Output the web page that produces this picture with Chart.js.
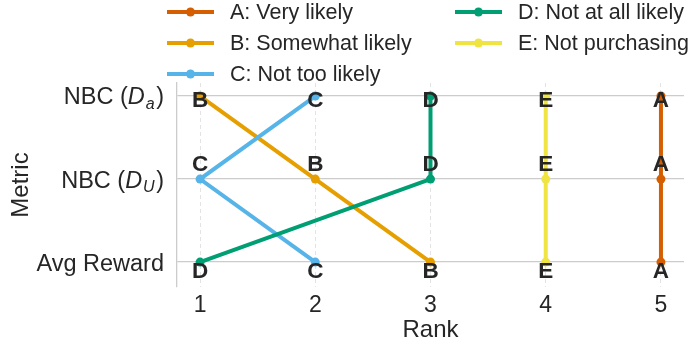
<!DOCTYPE html>
<html>
<head>
<meta charset="utf-8">
<script src="https://cdn.jsdelivr.net/npm/chart.js@4"></script>
<style>
  html, body { margin: 0; padding: 0; background: #ffffff; }
  canvas { display: block; }
</style>
</head>
<body>
<canvas id="c" width="693" height="350"></canvas>
<script>
// Metrics, top row first; "X_y" means X with subscript y
const metrics = ['NBC (D_a)', 'NBC (D_U)', 'Avg Reward'];
const rankTicks = [1, 2, 3, 4, 5];

const seriesNames = ['A: Very likely', 'B: Somewhat likely', 'C: Not too likely', 'D: Not at all likely', 'E: Not purchasing'];
const seriesLetters = ['A', 'B', 'C', 'D', 'E'];

// Rank of each group under each metric (same order as metrics)
const ranksA = [5, 5, 5];
const ranksB = [1, 2, 3];
const ranksC = [2, 1, 2];
const ranksD = [3, 3, 1];
const ranksE = [4, 4, 4];
const seriesRanks = [ranksA, ranksB, ranksC, ranksD, ranksE];

const colors = ['#D55E00', '#E69F00', '#56B4E9', '#009E73', '#F0E442'];

const FONT = "'Liberation Sans', Arial, Helvetica, sans-serif";
const INK = '#262626';
const rowOf = i => metrics.length - 1 - i;

const datasets = seriesNames.map((name, s) => ({
  label: name,
  letter: seriesLetters[s],
  data: seriesRanks[s].map((r, i) => ({ x: r, y: rowOf(i) })),
  borderColor: colors[s],
  backgroundColor: colors[s],
  pointBackgroundColor: colors[s],
  pointBorderWidth: 0,
  pointRadius: 4.5,
  pointHoverRadius: 4.5,
  borderWidth: 4,
  tension: 0,
  fill: false,
  order: seriesNames.length - s
}));

// Vertical offset of the letter tags relative to their point, per row
const letterOffset = { 2: 5, 1: -14, 0: 10 };

const letterTags = {
  id: 'letterTags',
  afterDatasetsDraw(chart) {
    const ctx = chart.ctx;
    ctx.save();
    ctx.font = "bold 22.5px " + FONT;
    ctx.fillStyle = INK;
    ctx.textAlign = 'center';
    ctx.textBaseline = 'middle';
    chart.data.datasets.forEach((ds, s) => {
      const meta = chart.getDatasetMeta(s);
      meta.data.forEach((pt, i) => {
        const row = ds.data[i].y;
        ctx.fillText(ds.letter, pt.x, pt.y + letterOffset[row]);
      });
    });
    ctx.restore();
  }
};

// Draws a metric name, rendering "X_y" as italic X with a subscript y
function drawMetricLabel(ctx, text, xRight, yMid, size) {
  const m = text.match(/^(.*\()(\w)_(\w)(\))$/);
  const base = y => y + size * 0.36;
  const normal = size + "px " + FONT;
  if (!m) {
    ctx.font = normal;
    ctx.textAlign = 'right';
    ctx.fillText(text, xRight, base(yMid));
    return;
  }
  const subSize = Math.round(size * 0.7);
  const parts = [
    { t: m[1], f: normal, dy: 0, pad: 0 },
    { t: m[2], f: "italic " + size + "px " + FONT, dy: 0, pad: 1 },
    { t: m[3], f: "italic " + subSize + "px " + FONT, dy: size * 0.2, pad: 1.5 },
    { t: m[4], f: normal, dy: 0, pad: 0 }
  ];
  let total = 0;
  parts.forEach(p => { ctx.font = p.f; p.w = ctx.measureText(p.t).width + p.pad; total += p.w; });
  let x = xRight - total;
  ctx.textAlign = 'left';
  parts.forEach(p => {
    ctx.font = p.f;
    ctx.fillText(p.t, x, base(yMid) + p.dy);
    x += p.w;
  });
}

const metricLabels = {
  id: 'metricLabels',
  afterDraw(chart) {
    const ctx = chart.ctx;
    const y = chart.scales.y;
    ctx.save();
    ctx.fillStyle = INK;
    ctx.textBaseline = 'alphabetic';
    metrics.forEach((name, i) => {
      drawMetricLabel(ctx, name, y.right - 13, y.getPixelForValue(rowOf(i)), 23.5);
    });
    ctx.restore();
  }
};

// Two-column legend, filled column by column
const columnLegend = {
  id: 'columnLegend',
  afterDraw(chart) {
    const ctx = chart.ctx;
    const colX = [167, 455];
    const rowY = [12, 43, 74];
    const lineLen = 47;
    ctx.save();
    ctx.font = "21.5px " + FONT;
    ctx.textBaseline = 'middle';
    ctx.textAlign = 'left';
    chart.data.datasets.forEach((ds, k) => {
      const x = colX[Math.floor(k / 3)];
      const y = rowY[k % 3];
      ctx.strokeStyle = ds.borderColor;
      ctx.lineWidth = 4;
      ctx.lineCap = 'butt';
      ctx.beginPath();
      ctx.moveTo(x, y);
      ctx.lineTo(x + lineLen, y);
      ctx.stroke();
      ctx.fillStyle = ds.borderColor;
      ctx.beginPath();
      ctx.arc(x + lineLen / 2, y, 4.5, 0, Math.PI * 2);
      ctx.fill();
      ctx.fillStyle = INK;
      ctx.fillText(ds.label, x + lineLen + 16, y + 1);
    });
    ctx.restore();
  }
};

new Chart(document.getElementById('c'), {
  type: 'line',
  data: { datasets },
  options: {
    responsive: false,
    animation: false,
    devicePixelRatio: 1,
    layout: { padding: { top: 83, right: 9, left: 0, bottom: 0 } },
    plugins: {
      legend: { display: false },
      tooltip: { enabled: false }
    },
    scales: {
      x: {
        type: 'linear',
        min: 0.8,
        max: 5.2,
        afterBuildTicks: axis => { axis.ticks = rankTicks.map(v => ({ value: v })); },
        afterFit: axis => { axis.height = 63; },
        ticks: {
          color: INK,
          font: { family: FONT, size: 23 },
          padding: 5,
          maxRotation: 0,
          callback: v => String(v)
        },
        grid: {
          color: '#e3e3e3',
          lineWidth: 1,
          drawTicks: false
        },
        border: { display: false, dash: [4, 3] },
        title: {
          display: true,
          text: 'Rank',
          color: INK,
          font: { family: FONT, size: 24 },
          padding: { top: 0, bottom: 5 }
        }
      },
      y: {
        type: 'linear',
        min: -0.3,
        max: 2.157,
        afterBuildTicks: axis => { axis.ticks = [0, 1, 2].map(v => ({ value: v })); },
        afterFit: axis => { axis.width = 177; },
        ticks: { display: false },
        grid: {
          color: '#cccccc',
          lineWidth: 1.3,
          drawTicks: false
        },
        border: { display: true, color: '#cccccc', width: 1.3 },
        title: {
          display: true,
          text: 'Metric',
          color: INK,
          font: { family: FONT, size: 24 },
          padding: { top: 7, bottom: 0 }
        }
      }
    }
  },
  plugins: [letterTags, metricLabels, columnLegend]
});
</script>
</body>
</html>
